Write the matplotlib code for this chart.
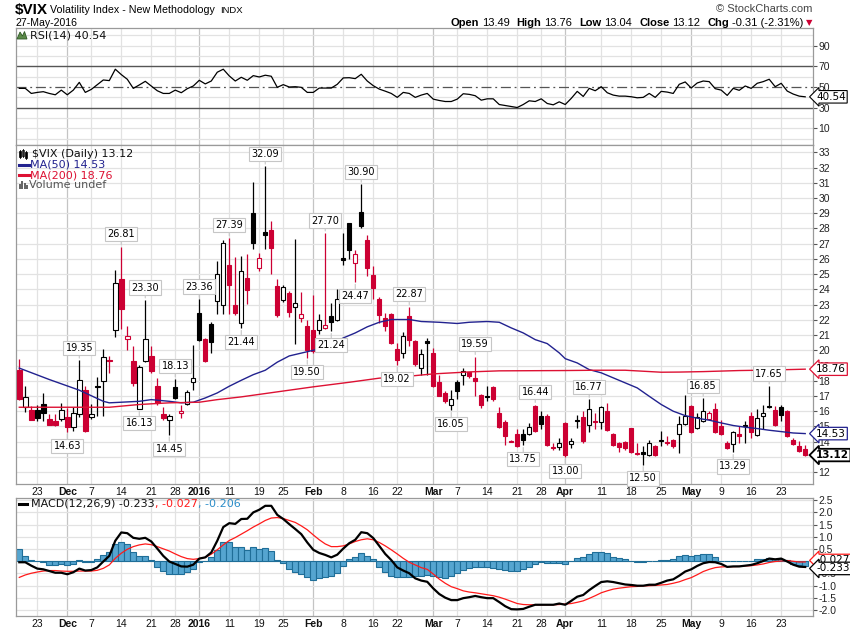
import matplotlib
matplotlib.use('Agg')
import matplotlib.pyplot as plt
from matplotlib.lines import Line2D
from matplotlib.patches import Rectangle, Polygon

# ---- daily $VIX candles, 18-Nov-2015 .. 27-May-2016 (trading-day index) ----
opens = [18.73, 16.28, 16.11, 16.06, 16.48, 15.49, 15.34, 15.49, 15.60, 14.97,
         15.82, 17.42, 15.63, 17.68, 17.99, 19.35, 21.36, 24.69, 20.75, 19.28,
         16.15, 19.30, 19.65, 17.64, 15.84, 15.41, 17.60, 15.89, 16.48, 17.92,
         22.46, 20.75, 21.73, 23.22, 23.00, 25.61, 23.00, 21.76, 24.76, 29.03,
         25.41, 27.78, 27.89, 24.25, 23.33, 23.77, 22.85, 22.13, 21.62, 21.32,
         21.32, 21.47, 22.28, 22.02, 26.05, 28.33, 25.74, 29.07, 27.21, 24.97,
         23.40, 22.13, 22.41, 20.09, 19.79, 22.28, 20.60, 18.84, 20.60, 19.83,
         17.92, 17.20, 16.39, 17.95, 18.41, 18.58, 18.17, 17.09, 17.00, 17.60,
         15.89, 15.30, 14.05, 14.53, 14.51, 14.53, 16.33, 15.67, 15.71, 13.65,
         13.65, 15.23, 13.85, 15.43, 15.60, 15.08, 15.35, 15.30, 16.00, 14.51,
         13.92, 13.96, 14.88, 13.25, 13.33, 13.15, 13.70, 14.11, 14.00, 14.14,
         14.51, 15.19, 16.33, 14.92, 15.34, 15.49, 16.15, 15.01, 13.92, 13.87,
         14.53, 15.10, 15.71, 14.46, 15.67, 16.37, 16.11, 16.28, 16.00, 14.09,
         13.74, 13.49]
highs = [19.46, 17.64, 16.33, 16.40, 17.20, 15.84, 15.84, 16.55, 16.20, 16.30,
         19.35, 17.64, 16.50, 18.25, 20.09, 19.61, 25.30, 26.81, 21.58, 20.27,
         19.06, 23.30, 20.27, 18.19, 16.26, 15.84, 18.13, 16.44, 17.42, 20.38,
         23.36, 20.80, 21.84, 25.85, 27.27, 27.39, 26.14, 26.18, 26.35, 31.04,
         26.40, 32.09, 28.48, 24.65, 24.30, 23.90, 27.32, 23.84, 22.00, 23.66,
         22.40, 27.70, 23.10, 24.05, 27.71, 28.37, 26.60, 30.90, 27.56, 25.52,
         23.50, 22.46, 22.46, 20.49, 21.19, 22.87, 20.70, 20.09, 20.81, 20.16,
         18.40, 17.30, 17.38, 18.08, 18.84, 18.60, 19.59, 17.10, 17.64, 17.64,
         16.30, 15.40, 14.10, 14.80, 14.80, 15.20, 16.44, 16.00, 15.80, 13.90,
         14.25, 15.30, 14.25, 15.78, 16.00, 16.77, 15.89, 16.33, 16.55, 14.55,
         14.00, 14.05, 14.90, 13.92, 13.70, 14.14, 13.76, 14.73, 14.40, 14.20,
         15.67, 17.09, 16.44, 15.89, 16.85, 16.00, 16.55, 15.45, 14.03, 14.68,
         15.01, 15.34, 15.93, 16.15, 16.44, 17.65, 16.33, 16.44, 16.10, 14.25,
         14.03, 13.76]
lows = [16.75, 15.95, 15.40, 15.34, 15.38, 15.10, 15.06, 15.34, 14.63, 14.70,
        15.60, 14.62, 15.50, 15.67, 15.67, 18.52, 20.88, 21.41, 20.00, 17.64,
        16.13, 19.20, 18.50, 16.40, 15.45, 14.45, 16.80, 15.56, 16.40, 17.38,
        20.62, 19.20, 19.79, 22.37, 22.40, 22.40, 22.30, 21.44, 23.03, 26.66,
        25.20, 26.62, 25.02, 22.20, 23.16, 22.20, 20.42, 21.84, 19.50, 19.83,
        21.08, 21.40, 21.24, 21.90, 25.57, 26.00, 24.47, 28.05, 24.91, 23.38,
        21.80, 21.25, 20.44, 19.02, 19.50, 20.31, 19.00, 18.40, 18.40, 17.60,
        16.98, 16.55, 16.05, 16.81, 17.75, 18.20, 16.98, 16.22, 16.65, 16.70,
        14.90, 13.81, 13.95, 13.65, 13.75, 14.46, 14.62, 14.80, 13.74, 13.48,
        13.48, 13.00, 13.60, 14.90, 13.92, 14.62, 14.84, 14.80, 14.70, 13.70,
        13.30, 13.45, 13.26, 13.10, 12.50, 13.09, 13.09, 13.74, 13.80, 13.59,
        13.26, 15.12, 14.57, 14.84, 15.30, 15.45, 14.60, 14.46, 13.52, 13.29,
        13.92, 13.92, 14.25, 14.40, 14.80, 16.22, 15.06, 15.34, 14.30, 13.80,
        13.30, 13.04]
closes = [16.81, 16.94, 15.45, 15.56, 15.89, 15.12, 15.08, 16.06, 14.97, 15.89,
          18.08, 14.68, 15.84, 17.60, 19.57, 19.30, 24.43, 22.68, 20.97, 17.86,
          18.91, 20.71, 18.63, 16.55, 15.56, 15.71, 16.85, 16.02, 17.27, 18.19,
          20.66, 19.28, 20.53, 25.02, 27.05, 24.27, 22.46, 25.22, 23.95, 27.05,
          26.07, 27.60, 26.70, 22.30, 24.16, 22.50, 23.11, 22.41, 20.00, 19.94,
          21.98, 21.67, 21.84, 23.38, 25.96, 26.57, 26.29, 28.15, 25.41, 24.06,
          22.30, 21.62, 20.49, 19.35, 20.92, 20.66, 19.13, 19.76, 20.51, 17.64,
          17.03, 16.65, 16.81, 17.31, 18.67, 18.30, 17.99, 16.44, 16.92, 16.81,
          14.97, 14.36, 14.00, 13.70, 14.09, 14.97, 14.68, 15.19, 13.81, 13.60,
          13.92, 13.10, 14.07, 15.34, 14.03, 16.15, 15.30, 16.26, 14.75, 13.76,
          13.65, 13.59, 13.30, 13.17, 13.19, 13.92, 13.15, 14.03, 13.94, 13.70,
          15.19, 15.71, 14.62, 15.63, 16.00, 15.89, 14.62, 14.51, 13.59, 14.62,
          14.36, 15.01, 14.62, 15.56, 15.89, 16.28, 15.12, 15.78, 14.36, 13.85,
          13.37, 13.12]

# moving averages at selected days
ma50_x = [0, 5, 10, 14, 15, 20, 22, 25, 27, 29, 31, 33, 35, 37, 39, 41, 43, 45,
          49, 52, 54, 56, 58, 60, 62, 65, 67, 70, 73, 75, 78, 80, 82, 84, 86, 88,
          90, 91, 93, 95, 97, 99, 101, 103, 105, 107, 109, 111, 113, 115, 117,
          119, 121, 123, 125, 127, 129, 131]
ma50_v = [18.83, 18.08, 17.38, 16.65, 16.55, 16.65, 16.76, 16.65, 16.55, 16.59,
          16.87, 17.20, 17.64, 18.03, 18.40, 18.69, 19.22, 19.63, 20.00, 20.38,
          20.81, 21.14, 21.54, 21.84, 22.02, 22.02, 21.89, 21.84, 21.76, 21.84,
          21.89, 21.84, 21.47, 21.14, 20.70, 20.44, 19.83, 19.45, 19.17, 18.73,
          18.52, 18.19, 17.86, 17.53, 16.98, 16.44, 16.00, 15.71, 15.54, 15.41,
          15.23, 15.06, 14.95, 14.86, 14.75, 14.66, 14.57, 14.53]
ma200_x = [0, 15, 20, 25, 30, 33, 37, 41, 45, 49, 55, 60, 65, 69, 75, 80, 91,
           96, 101, 107, 110, 114, 120, 125, 131]
ma200_v = [16.26, 16.26, 16.44, 16.55, 16.59, 16.76, 16.94, 17.16, 17.38, 17.60,
           17.90, 18.17, 18.30, 18.45, 18.58, 18.65, 18.67, 18.69, 18.69, 18.56,
           18.57, 18.60, 18.67, 18.70, 18.76]

rsi = [48.7, 48.7, 43.8, 44.8, 45.5, 43.8, 42.5, 47.0, 42.5, 47.0,
       54.5, 44.8, 47.7, 52.3, 56.8, 56.2, 67.2, 62.0, 57.5, 48.7,
       52.0, 55.5, 51.0, 46.4, 43.8, 43.8, 47.0, 44.5, 48.4, 51.0,
       56.5, 53.0, 55.8, 64.3, 67.2, 60.7, 55.8, 59.4, 56.5, 61.0,
       59.7, 61.4, 60.4, 49.7, 52.3, 50.0, 50.3, 49.7, 44.8, 44.8,
       49.0, 49.0, 49.0, 52.6, 58.8, 59.0, 58.1, 62.3, 55.8, 51.3,
       48.0, 46.0, 43.8, 40.0, 44.8, 43.8, 40.0, 42.2, 43.8, 38.3,
       37.0, 36.0, 36.0, 38.3, 43.5, 42.9, 41.6, 37.3, 38.6, 38.6,
       33.1, 32.1, 31.2, 30.2, 33.1, 36.7, 36.0, 38.6, 34.1, 32.8,
       35.7, 33.1, 39.0, 45.8, 40.9, 48.7, 46.4, 50.3, 44.5, 42.2,
       41.2, 41.2, 40.6, 39.6, 40.0, 43.8, 40.0, 45.8, 45.1, 43.8,
       52.6, 54.9, 49.0, 53.9, 55.8, 55.2, 48.4, 47.0, 41.9, 48.7,
       46.8, 51.0, 48.7, 53.6, 55.2, 57.5, 50.3, 53.6, 46.1, 43.2,
       41.2, 40.54]

macd = [-0.04, -0.04, -0.18, -0.30, -0.33, -0.40, -0.47, -0.47, -0.53, -0.45,
        -0.30, -0.38, -0.36, -0.25, -0.01, 0.22, 0.84, 1.18, 1.15, 0.96,
        0.92, 0.96, 0.81, 0.52, 0.22, -0.01, -0.11, -0.21, -0.22, -0.14,
        0.11, 0.16, 0.36, 0.84, 1.40, 1.56, 1.53, 1.73, 1.74, 2.00,
        2.11, 2.27, 2.27, 1.90, 1.73, 1.52, 1.32, 1.11, 0.77, 0.47,
        0.34, 0.26, 0.16, 0.27, 0.52, 0.74, 0.88, 1.19, 1.15, 0.95,
        0.63, 0.30, 0.05, -0.25, -0.38, -0.49, -0.70, -0.79, -0.84, -1.11,
        -1.34, -1.49, -1.59, -1.59, -1.51, -1.47, -1.42, -1.47, -1.51, -1.51,
        -1.67, -1.84, -1.96, -1.97, -1.95, -1.86, -1.78, -1.78, -1.78, -1.78,
        -1.73, -1.78, -1.62, -1.45, -1.38, -1.18, -1.01, -0.85, -0.82, -0.85,
        -0.90, -0.95, -0.97, -1.00, -1.00, -0.96, -0.96, -0.88, -0.79, -0.74,
        -0.59, -0.42, -0.33, -0.19, -0.08, -0.03, -0.04, -0.11, -0.23, -0.21,
        -0.21, -0.18, -0.15, -0.08, 0.01, 0.11, 0.08, 0.11, -0.01, -0.14,
        -0.22, -0.233]
signal = [-0.66, -0.56, -0.49, -0.44, -0.40, -0.38, -0.38, -0.40, -0.41, -0.41,
          -0.40, -0.40, -0.40, -0.37, -0.29, -0.15, 0.12, 0.33, 0.49, 0.60,
          0.67, 0.71, 0.68, 0.60, 0.51, 0.42, 0.30, 0.19, 0.11, 0.08,
          0.11, 0.16, 0.29, 0.47, 0.67, 0.85, 0.97, 1.11, 1.25, 1.40,
          1.53, 1.67, 1.77, 1.79, 1.75, 1.67, 1.59, 1.45, 1.29, 1.08,
          0.88, 0.71, 0.60, 0.60, 0.63, 0.71, 0.81, 0.88, 0.92, 0.88,
          0.77, 0.63, 0.47, 0.30, 0.12, -0.04, -0.15, -0.26, -0.33, -0.52,
          -0.73, -0.90, -1.04, -1.12, -1.21, -1.26, -1.29, -1.33, -1.37, -1.41,
          -1.47, -1.55, -1.64, -1.73, -1.77, -1.78, -1.78, -1.78, -1.78, -1.78,
          -1.77, -1.75, -1.73, -1.68, -1.62, -1.52, -1.41, -1.29, -1.21, -1.14,
          -1.10, -1.07, -1.04, -1.03, -1.01, -1.00, -0.99, -0.97, -0.95, -0.90,
          -0.84, -0.75, -0.67, -0.55, -0.42, -0.33, -0.26, -0.23, -0.22, -0.22,
          -0.21, -0.19, -0.18, -0.15, -0.11, -0.05, -0.01, 0.01, 0.03, 0.00,
          -0.03, -0.027]
hist = [0.49, 0.22, 0.05, 0.03, -0.03, -0.14, -0.16, -0.11, -0.14, -0.11,
        0.05, -0.03, -0.03, 0.08, 0.25, 0.38, 0.71, 0.79, 0.71, 0.38,
        0.22, 0.22, 0.05, -0.22, -0.38, -0.53, -0.53, -0.53, -0.44, -0.33,
        -0.03, 0.03, 0.16, 0.47, 0.79, 0.79, 0.58, 0.58, 0.47, 0.58,
        0.49, 0.55, 0.44, 0.05, -0.08, -0.33, -0.42, -0.52, -0.65, -0.75,
        -0.70, -0.66, -0.62, -0.49, -0.19, 0.08, 0.19, 0.33, 0.22, 0.08,
        -0.22, -0.44, -0.60, -0.66, -0.66, -0.64, -0.62, -0.60, -0.56, -0.62,
        -0.66, -0.70, -0.62, -0.49, -0.36, -0.26, -0.25, -0.25, -0.25, -0.29,
        -0.33, -0.36, -0.38, -0.40, -0.33, -0.25, -0.11, -0.03, -0.07, -0.07,
        -0.07, -0.10, 0.03, 0.14, 0.19, 0.30, 0.36, 0.38, 0.33, 0.19,
        0.12, 0.08, 0.00, -0.03, -0.03, 0.00, 0.03, 0.05, 0.05, 0.11,
        0.22, 0.25, 0.22, 0.26, 0.30, 0.30, 0.16, 0.03, 0.03, 0.00,
        0.00, 0.03, 0.03, 0.08, 0.11, 0.12, 0.11, 0.11, 0.05, -0.11,
        -0.16, -0.206]

tick_idx = [3, 8, 12, 17, 22, 26, 30, 35, 40, 44, 49, 54, 59, 63, 69, 73, 78,
            83, 87, 91, 97, 102, 107, 112, 117, 122, 127]
tick_lbl = ['23', 'Dec', '7', '14', '21', '28', '2016', '11', '19', '25', 'Feb',
            '8', '16', '22', 'Mar', '7', '14', '21', '28', 'Apr', '11', '18',
            '25', 'May', '9', '16', '23']
month_lbl = ['Dec', '2016', 'Feb', 'Mar', 'Apr', 'May']

peak_idx = [10, 17, 21, 26, 30, 35, 41, 51, 57, 65, 76, 86, 95, 114, 125]
trough_idx = [8, 20, 25, 37, 48, 52, 56, 63, 72, 84, 91, 104, 119]

RED = '#cc0033'
NAVY = '#22228f'
GRID = '#e2e2e2'
MGRID = '#c4c4c4'
FRAME = '#9a9a9a'

W, H = 850, 633
fig = plt.figure(figsize=(8.5, 6.33), dpi=100)


def box(l, t, r, b):
    return [l / W, 1 - b / H, (r - l) / W, (b - t) / H]


def fx(x):
    return x / W


def fy(y):
    return 1 - y / H


ax_r = fig.add_axes(box(16, 28, 813, 145))
ax = fig.add_axes(box(16, 145, 813, 484), sharex=ax_r)
ax_m = fig.add_axes(box(16, 498, 813, 616), sharex=ax_r)

n = len(closes)
days = list(range(n))

for a in (ax_r, ax, ax_m):
    a.set_xlim(-0.55, 132.3)
    for s in a.spines.values():
        s.set_color(FRAME)
        s.set_linewidth(0.9)
    a.yaxis.tick_right()
    a.tick_params(axis='y', length=3, width=0.8, color='#555555', pad=1,
                  labelsize=7.5, labelcolor='#222222')
    a.tick_params(axis='x', length=0, pad=2, labelsize=7.5, labelcolor='#111111')
    for t_i, lab in zip(tick_idx, tick_lbl):
        a.axvline(t_i, color=MGRID if lab in month_lbl else GRID, lw=0.9, zorder=0)
    a.set_xticks(tick_idx)
    a.set_xticklabels(tick_lbl)
    for tl in a.get_xticklabels():
        tl.set_fontfamily('Liberation Sans')
        if tl.get_text() in month_lbl:
            tl.set_fontweight('bold')
ax_r.tick_params(axis='x', labelbottom=False)

# ---- RSI panel ----
ax_r.set_ylim(-6, 107)
for g in [0, 10, 20, 40, 60, 80, 90, 100]:
    ax_r.axhline(g, color=GRID, lw=0.9, zorder=0)
ax_r.axhline(70, color='#555555', lw=1.0)
ax_r.axhline(30, color='#555555', lw=1.0)
ax_r.axhline(50, color='#555555', lw=0.9, ls=(0, (8, 3, 1.5, 3)))
ax_r.plot(days, rsi, color='black', lw=0.9)
ax_r.set_yticks([10, 30, 50, 70, 90])
ax_r.text(1.004, rsi[-1], '%.2f' % rsi[-1], transform=ax_r.get_yaxis_transform(),
          va='center', ha='left', fontsize=7.5, family='DejaVu Sans', zorder=10,
          bbox=dict(boxstyle='larrow,pad=0.12', fc='white', ec='black', lw=0.8),
          clip_on=False)

# ---- price panel ----
ax.set_ylim(11.22, 33.48)
for g in range(12, 34):
    ax.axhline(g, color=GRID, lw=0.9, zorder=0)
ax.set_yticks(range(12, 34))
ax.set_yticklabels(['' if v == 13 else str(v) for v in range(12, 34)])

for i in days:
    o, h, l, c = opens[i], highs[i], lows[i], closes[i]
    prev = closes[i - 1] if i > 0 else o
    col = RED if c < prev else 'black'
    face = col if c < o else 'white'
    ax.vlines(i, l, h, color=col, lw=0.9, zorder=2)
    bot = min(o, c)
    hgt = max(abs(c - o), 0.05)
    ax.add_patch(Rectangle((i - 0.37, bot), 0.74, hgt, fc=face, ec=col,
                           lw=0.8, zorder=3))

ax.plot(ma50_x, ma50_v, color=NAVY, lw=1.0, zorder=4)
ax.plot(ma200_x, ma200_v, color='#dd1133', lw=1.0, zorder=4)

lab_kw = dict(textcoords='offset points', ha='center', va='center', fontsize=7,
              family='DejaVu Sans', zorder=6, annotation_clip=False,
              bbox=dict(boxstyle='square,pad=0.22', fc='white', ec='#c6c6c6', lw=0.8),
              arrowprops=dict(arrowstyle='-', color='#c6c6c6', lw=0.8,
                              shrinkA=0, shrinkB=1.5))
for i in peak_idx:
    ax.annotate('%.2f' % highs[i], (i, highs[i]), xytext=(0, 9), **lab_kw)
for i in trough_idx:
    ax.annotate('%.2f' % lows[i], (i, lows[i]), xytext=(0, -10), **lab_kw)

ytr = ax.get_yaxis_transform()
for val, ec, wt, lw in [(ma200_v[-1], '#dd1133', 'normal', 0.9),
                        (ma50_v[-1], NAVY, 'normal', 0.9),
                        (closes[-1], 'black', 'bold', 1.3)]:
    ax.text(1.004, val, '%.2f' % val, transform=ytr, va='center', ha='left',
            fontsize=7.5, fontweight=wt, family='DejaVu Sans', zorder=10,
            clip_on=False,
            bbox=dict(boxstyle='larrow,pad=0.12', fc='white', ec=ec, lw=lw))

# ---- MACD panel ----
ax_m.set_ylim(-2.24, 2.59)
mt = [-2.0, -1.5, -1.0, -0.5, 0.0, 0.5, 1.0, 1.5, 2.0, 2.5]
for g in mt:
    ax_m.axhline(g, color=GRID, lw=0.9, zorder=0)
ax_m.set_yticks(mt)
ax_m.set_yticklabels(['' if v == 0 else '%.1f' % v for v in mt])
ax_m.bar(days, hist, width=1.0, color='#55a5d0', edgecolor='#1f6e98', lw=0.8,
         zorder=2)
ax_m.plot(days, signal, color='#ff1a1a', lw=0.9, zorder=3)
ax_m.plot(days, macd, color='black', lw=1.6, zorder=4)
mtr = ax_m.get_yaxis_transform()
ax_m.text(1.004, signal[-1] + 0.06, '%.3f' % signal[-1], transform=mtr, va='center',
          ha='left', fontsize=7.5, family='DejaVu Sans', zorder=10, clip_on=False,
          bbox=dict(boxstyle='larrow,pad=0.12', fc='white', ec='#ff1a1a', lw=0.9))
ax_m.text(1.004, macd[-1] - 0.06, '%.3f' % macd[-1], transform=mtr, va='center',
          ha='left', fontsize=7.5, family='DejaVu Sans', zorder=11, clip_on=False,
          bbox=dict(boxstyle='larrow,pad=0.12', fc='white', ec='black', lw=0.9))

for a in (ax_r, ax, ax_m):
    for tl in a.get_yticklabels():
        tl.set_fontfamily('Liberation Sans')


# ---- in-panel legends ----
def fline(x0, y0, x1, y1, **kw):
    fig.add_artist(Line2D([fx(x0), fx(x1)], [fy(y0), fy(y1)], **kw))


LF = dict(fontsize=8, family='DejaVu Sans', va='center', ha='left')
# RSI
fig.add_artist(Polygon([(fx(17), fy(39)), (fx(20), fy(32)), (fx(22.5), fy(36)),
                        (fx(24.5), fy(31.5)), (fx(27), fy(39))],
                       closed=True, fc='#5c8a4a', ec='#2f5a25', lw=0.6))
fig.text(fx(30), fy(35), 'RSI(14) %.2f' % rsi[-1], color='#111111', **LF)
# price
for k, (a, b, filled) in enumerate([(151, 157, True), (150, 156, False), (152, 158, True)]):
    xx = 20 + k * 3
    fline(xx, a - 1, xx, b + 1, color='black', lw=0.6)
    fig.add_artist(Rectangle((fx(xx - 1), fy(b)), 2 / W, (b - a) / H,
                             fc='black' if filled else 'white', ec='black', lw=0.5))
fig.text(fx(32), fy(154), '$VIX (Daily) %.2f' % closes[-1], color='#111111', **LF)
fline(19, 164.5, 29, 164.5, color=NAVY, lw=2.2)
fig.text(fx(30), fy(164.5), 'MA(50) %.2f' % ma50_v[-1], color=NAVY, **LF)
fline(19, 175, 29, 175, color='#dd1133', lw=2.2)
fig.text(fx(30), fy(175), 'MA(200) %.2f' % ma200_v[-1], color='#dd1133', **LF)
for k, hh in enumerate([5, 8, 6, 4]):
    fig.add_artist(Rectangle((fx(19 + k * 2.4), fy(189)), 1.7 / W, hh / H,
                             fc='#666666', ec='none'))
fig.text(fx(29), fy(185), 'Volume undef', color='#555555', **LF)
# MACD
fline(19, 504, 27, 504, color='black', lw=2.2)
fig.canvas.draw()
rend = fig.canvas.get_renderer()
xcur = 31
for txt, col in [('MACD(12,26,9) %.3f' % macd[-1], '#111111'),
                 (', %.3f' % signal[-1], '#ff1a1a'),
                 (', %.3f' % hist[-1], '#2a8cc8')]:
    t = fig.text(fx(xcur), fy(504), txt, color=col, **LF)
    xcur += t.get_window_extent(rend).width

# ---- header ----
fig.text(fx(15), fy(10), '$VIX', fontsize=11, fontweight='bold',
         family='Liberation Sans', va='center', ha='left')
fig.text(fx(50), fy(10), 'Volatility Index - New Methodology', fontsize=7.7,
         family='Liberation Sans', va='center', ha='left')
fig.text(fx(220), fy(10.5), 'INDX', fontsize=6.8, family='Liberation Sans',
         va='center', ha='left')
fig.text(fx(16), fy(22.5), '27-May-2016', fontsize=7.6, family='Liberation Sans',
         va='center', ha='left')
fig.text(fx(812), fy(9), '\u00a9 StockCharts.com', fontsize=8, color='#444444',
         family='Liberation Sans', va='center', ha='right')

pieces = [('Open', True), ('%.2f' % opens[-1], False),
          ('High', True), ('%.2f' % highs[-1], False),
          ('Low', True), ('%.2f' % lows[-1], False),
          ('Close', True), ('%.2f' % closes[-1], False),
          ('Chg', True),
          ('%.2f (%.2f%%)' % (-0.31, -2.31), False)]
xr = 812
t = fig.text(fx(xr), fy(23), '\u25bc', fontsize=6, color=RED, family='DejaVu Sans',
             va='center', ha='right')
xr -= t.get_window_extent(rend).width + 2
for txt, bold in reversed(pieces):
    t = fig.text(fx(xr), fy(23), txt, fontsize=8, family='Liberation Sans',
                 fontweight='bold' if bold else 'normal', va='center', ha='right')
    # value -> its label: small gap; label -> previous value: wider gap
    xr -= t.get_window_extent(rend).width + (7 if bold else 3)

fig.savefig('out.png', dpi=100)
